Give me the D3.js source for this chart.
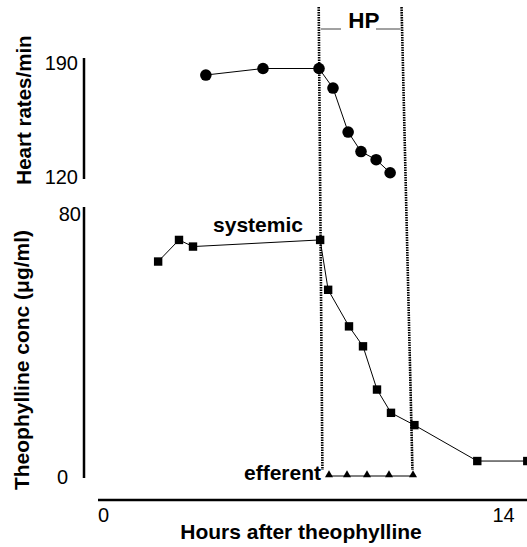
<!DOCTYPE html>
<html><head><meta charset="utf-8">
<script src="https://cdn.jsdelivr.net/npm/d3@7"></script>
<style>body{margin:0;background:#fff}svg{display:block}text{font-family:"Liberation Sans",Arial,sans-serif;fill:#000}</style>
</head><body>
<svg id="c" width="527" height="547"></svg>
<script>
// ---- data ----
const hrHours = [3.6, 5.6, 7.56, 8.05, 8.58, 9.03, 9.56, 10.05];
const hrValues = [182, 186, 186, 174, 147, 135, 130, 122];
const sysHours = [1.93, 2.66, 3.15, 7.6, 7.88, 8.61, 9.1, 9.59, 10.08, 10.9, 13.1, 14.85];
const sysValues = [64.5, 71, 69, 71, 56, 45, 39, 26, 19, 15.3, 4.5, 4.5];
const effHours = [7.91, 8.54, 9.24, 10.01, 10.85];
const effValues = [0, 0, 0, 0, 0];
const xTicks = [0, 14];
const hrTicks = [120, 190];
const concTicks = [0, 80];
const hpStart = [7.55, 7.68];   // HP start (top, bottom)
const hpEnd = [10.45, 10.83];   // HP end (top, bottom)

const svg = d3.select("#c");
const FONT = "Liberation Sans, Arial, sans-serif";
const x = d3.scaleLinear().domain([0, 14]).range([103, 503]);
const yH = d3.scaleLinear().domain([120, 190]).range([176, 62]);
const yC = d3.scaleLinear().domain([0, 80]).range([476, 210]);

// axes
const axX = 84;
svg.append("line").attr("x1", axX).attr("x2", axX).attr("y1", yH(190) - 4).attr("y2", yH(120) + 3)
  .attr("stroke", "#000").attr("stroke-width", 2.5);
svg.append("line").attr("x1", axX).attr("x2", axX).attr("y1", yC(80) - 3).attr("y2", yC(0) + 2)
  .attr("stroke", "#000").attr("stroke-width", 2.5);
svg.append("line").attr("x1", 98).attr("x2", 527).attr("y1", 500).attr("y2", 500)
  .attr("stroke", "#000").attr("stroke-width", 2.5);

const hAxis = svg.append("g").attr("transform", `translate(${axX - 6},0)`)
  .call(d3.axisLeft(yH).tickValues(hrTicks).tickSize(0).tickPadding(0));
hAxis.select(".domain").remove();
hAxis.selectAll("text").attr("font-size", 20).attr("font-family", FONT).attr("dy", "0.36em");

const cAxis = svg.append("g").attr("transform", `translate(${axX - 3},0)`)
  .call(d3.axisLeft(yC).tickValues(concTicks).tickSize(0).tickPadding(0));
cAxis.select(".domain").remove();
cAxis.selectAll("text").attr("font-size", 20).attr("font-family", FONT)
  .attr("dy", d => d === 0 ? "0.36em" : "0.5em")
  .attr("x", d => d === 0 ? -13 : 0);

const xAxis = svg.append("g").attr("transform", `translate(0,522)`)
  .call(d3.axisBottom(x).tickValues(xTicks).tickSize(0).tickPadding(0));
xAxis.select(".domain").remove();
xAxis.selectAll("text").attr("font-size", 20).attr("font-family", FONT).attr("y", 0).attr("dy", 0);

// axis titles
svg.append("text").attr("transform", "translate(31,110) rotate(-90)").attr("text-anchor", "middle")
  .attr("font-size", 20.5).attr("font-weight", "bold").text("Heart rates/min");
svg.append("text").attr("transform", "translate(29,360) rotate(-90)").attr("text-anchor", "middle")
  .attr("font-size", 21).attr("font-weight", "bold").text("Theophylline conc (μg/ml)");
svg.append("text").attr("x", 301).attr("y", 539).attr("text-anchor", "middle")
  .attr("font-size", 21).attr("font-weight", "bold").text("Hours after theophylline");

// HP dotted lines
[hpStart, hpEnd].forEach(h => {
  svg.append("line").attr("x1", x(h[0])).attr("x2", x(h[1])).attr("y1", 7).attr("y2", 470)
    .attr("stroke", "#000").attr("stroke-width", 2.6).attr("stroke-dasharray", "1.6,0.9");
});
svg.append("line").attr("x1", x(hpStart[0]) + 2).attr("x2", 341).attr("y1", 29).attr("y2", 29)
  .attr("stroke", "#444").attr("stroke-width", 1);
svg.append("line").attr("x1", 376).attr("x2", x(hpEnd[0]) - 1).attr("y1", 29).attr("y2", 29)
  .attr("stroke", "#444").attr("stroke-width", 1);
svg.append("text").attr("x", 364).attr("y", 28).attr("text-anchor", "middle")
  .attr("font-size", 22.5).attr("font-weight", "bold").text("HP");

// series lines
const line = (xs, ys, yS) => d3.line().x((d, i) => x(xs[i])).y((d, i) => yS(ys[i]))(xs);
svg.append("path").attr("d", line(hrHours, hrValues, yH)).attr("fill", "none").attr("stroke", "#000").attr("stroke-width", 1);
svg.append("path").attr("d", line(sysHours, sysValues, yC)).attr("fill", "none").attr("stroke", "#000").attr("stroke-width", 1);
svg.append("path").attr("d", line(effHours, effValues, yC)).attr("fill", "none").attr("stroke", "#000").attr("stroke-width", 1);

// markers
svg.append("g").selectAll("circle").data(hrHours).join("circle")
  .attr("cx", (d) => x(d)).attr("cy", (d, i) => yH(hrValues[i])).attr("r", 5.8).attr("fill", "#000");
svg.append("g").selectAll("rect").data(sysHours).join("rect")
  .attr("x", d => x(d) - 4.2).attr("y", (d, i) => yC(sysValues[i]) - 4.2).attr("width", 8.4).attr("height", 8.4).attr("fill", "#000");
const tri = d3.symbol().type(d3.symbolTriangle).size(28);
svg.append("g").selectAll("path").data(effHours).join("path")
  .attr("d", tri).attr("transform", (d, i) => `translate(${x(d)},${yC(effValues[i]) - 1})`).attr("fill", "#000");

// series labels
svg.append("text").attr("x", 258).attr("y", 232).attr("text-anchor", "middle")
  .attr("font-size", 21).attr("font-weight", "bold").text("systemic");
svg.append("text").attr("x", 321).attr("y", 480).attr("text-anchor", "end")
  .attr("font-size", 21).attr("font-weight", "bold").text("efferent");
</script>
</body></html>
